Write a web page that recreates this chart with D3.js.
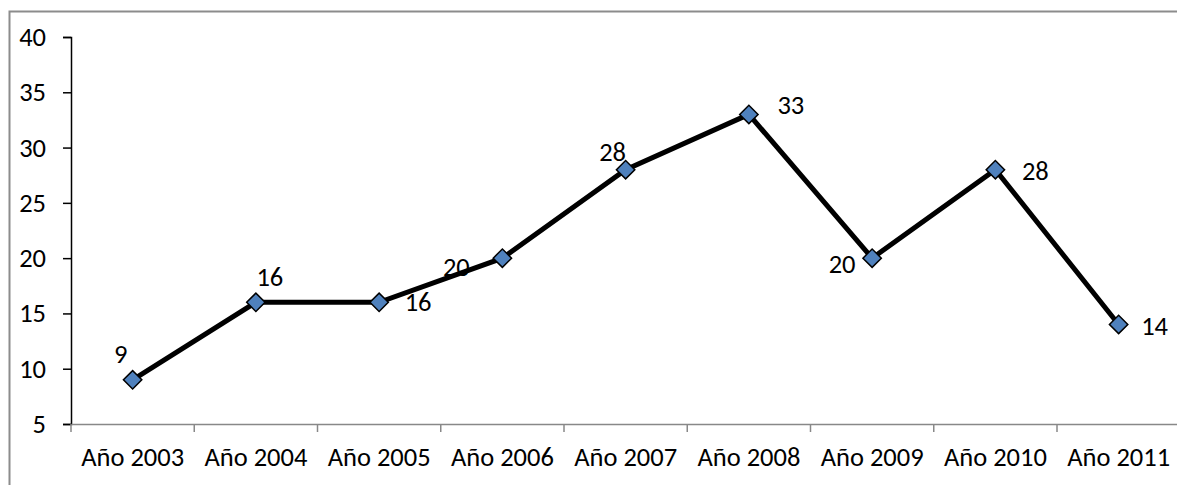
<!DOCTYPE html>
<html>
<head>
<meta charset="utf-8">
<script src="https://cdn.jsdelivr.net/npm/d3@7"></script>
<style>
  body { margin: 0; background: #fff; overflow: hidden; }
  svg { display: block; }
  text { font-family: Carlito, Calibri, Lato, sans-serif; font-size: 26.5px; fill: #000; }
</style>
</head>
<body>
<div class="chart"></div>
<script>
const w = 1177;
const h = 485;

// data
const years = ["Año 2003", "Año 2004", "Año 2005", "Año 2006", "Año 2007", "Año 2008", "Año 2009", "Año 2010", "Año 2011"];
const values = [9, 16, 16, 20, 28, 33, 20, 28, 14];
const yTicks = [5, 10, 15, 20, 25, 30, 35, 40];

// where each data label sits relative to its point (dx, dy)
const labelOffset = [[-12, -26], [14, -25], [39, 0], [-46, 9], [-13, -18], [42, -9], [-30, 6], [40, 1], [36, 2]];

const svg = d3.select(".chart")
  .append("svg")
  .attr("width", w)
  .attr("height", h);

// outer frame (runs off the right and bottom edges)
svg.append("path")
  .attr("d", `M9.5,${h + 5}V11.5H${w + 5}`)
  .attr("fill", "none")
  .attr("stroke", "#8c8c8c")
  .attr("stroke-width", 2);

const plotLeft = 71, plotTop = 37, plotBottom = 424;
const band = 123.25;

const x = d3.scaleBand()
  .domain(years)
  .range([plotLeft, plotLeft + band * years.length]);

const y = d3.scaleLinear()
  .domain([5, 40])
  .range([plotBottom, plotTop]);

// y axis
const yAxis = svg.append("g")
  .attr("transform", `translate(${plotLeft},0)`)
  .call(d3.axisLeft(y).tickValues(yTicks).tickSize(8).tickPadding(17));
yAxis.selectAll("line, path").attr("stroke", "#000").attr("stroke-width", 1.5);
yAxis.selectAll("text").attr("font-size", null).attr("font-family", null);

// x axis
const xAxis = svg.append("g")
  .attr("transform", `translate(0,${plotBottom})`)
  .call(d3.axisBottom(x).tickSize(0).tickPadding(23));
xAxis.select("path").attr("stroke", "#888").attr("stroke-width", 1.5);
xAxis.selectAll("text").attr("font-size", null).attr("font-family", null);

// x ticks between categories
const edges = years.map(d => x(d)).concat([x.range()[1]]);
svg.append("g")
  .selectAll("line")
  .data(edges)
  .enter().append("line")
  .attr("x1", d => d)
  .attr("x2", d => d)
  .attr("y1", plotBottom)
  .attr("y2", plotBottom + 8)
  .attr("stroke", "#888")
  .attr("stroke-width", 1.5);

const cx = (d, i) => x(years[i]) + x.bandwidth() / 2;

const line = d3.line()
  .x(cx)
  .y(d => y(d));

svg.append("path")
  .datum(values)
  .attr("d", line)
  .attr("fill", "none")
  .attr("stroke", "#000")
  .attr("stroke-width", 5)
  .attr("stroke-linejoin", "miter");

svg.selectAll(".marker")
  .data(values)
  .enter().append("rect")
  .attr("class", "marker")
  .attr("x", -6.5)
  .attr("y", -6.5)
  .attr("width", 13)
  .attr("height", 13)
  .attr("transform", (d, i) => `translate(${cx(d, i)},${y(d)}) rotate(45)`)
  .attr("fill", "#4f81bd")
  .attr("stroke", "#000")
  .attr("stroke-width", 1.5);

svg.selectAll(".label")
  .data(values)
  .enter().append("text")
  .attr("class", "label")
  .attr("x", (d, i) => cx(d, i) + labelOffset[i][0])
  .attr("y", (d, i) => y(d) + labelOffset[i][1])
  .attr("text-anchor", "middle")
  .attr("dominant-baseline", "central")
  .text(d => d);
</script>
</body>
</html>
